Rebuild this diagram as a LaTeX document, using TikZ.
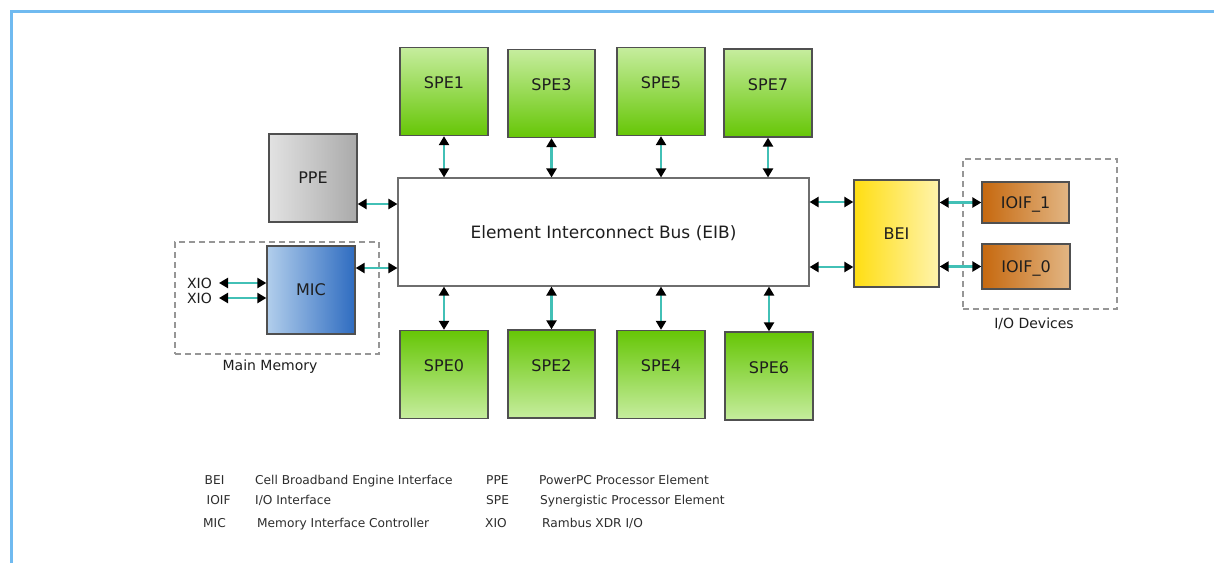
\documentclass[tikz,border=0pt]{standalone}
\usepackage{fontspec}
\setmainfont{DejaVu Sans}
\usetikzlibrary{arrows.meta}
\definecolor{frameblue}{RGB}{112,186,240}
\definecolor{boxline}{RGB}{80,80,80}
\definecolor{eibline}{RGB}{110,110,110}
\definecolor{linkteal}{RGB}{66,192,182}
\definecolor{txt}{RGB}{30,30,30}
\definecolor{legtxt}{RGB}{45,45,45}
\definecolor{spelight}{RGB}{198,237,158}
\definecolor{spedark}{RGB}{102,198,6}
\definecolor{ppelight}{RGB}{226,226,226}
\definecolor{ppedark}{RGB}{170,170,170}
\definecolor{miclight}{RGB}{178,206,236}
\definecolor{micdark}{RGB}{46,108,192}
\definecolor{beidark}{RGB}{255,222,18}
\definecolor{beilight}{RGB}{255,243,172}
\definecolor{ioifdark}{RGB}{198,104,14}
\definecolor{ioiflight}{RGB}{226,182,132}
\definecolor{grpgray}{RGB}{150,150,150}
\tikzset{
 blk/.style={draw=boxline, line width=1.3pt, inner sep=0pt, text=txt, font=\fontsize{16}{18}\selectfont, text height=11.7pt, text depth=0pt},
 spebox/.style={blk, minimum width=88pt, minimum height=88pt, text depth=17pt},
 spetop/.style={spebox, top color=spelight, bottom color=spedark},
 spebot/.style={spebox, top color=spedark, bottom color=spelight},
 link/.style={draw=linkteal, line width=2.4pt, arrows={Triangle[color=black,length=9pt,width=10pt]-Triangle[color=black,length=9pt,width=10pt]}},
 grp/.style={draw=grpgray, line width=1.1pt, dash pattern=on 6pt off 4pt, inner sep=0pt},
 grplbl/.style={text=txt, font=\fontsize{14}{16}\selectfont, inner sep=0pt},
 legtext/.style={text=legtxt, font=\fontsize{12.2}{14}\selectfont, inner sep=0pt, anchor=base west},
}
\begin{document}
\begin{tikzpicture}[x=1pt,y=-1pt]
\useasboundingbox (0,0) rectangle (1214,563);
\fill[white] (0,0) rectangle (1214,563);
\draw[frameblue, line width=3pt] (11,563) -- (11,11) -- (1214,11);

% groups
\node[grp, minimum width=204pt, minimum height=112pt] (mainmem) at (277,298) {};
\node[grp, minimum width=154pt, minimum height=150pt] (iodev) at (1040,234) {};
\node[grplbl] (mmlbl) at (270,366.5) {Main Memory};
\node[grplbl] (iolbl) at (1034,324) {I/O Devices};

% bus
\node[blk, draw=eibline, line width=1.1pt, minimum width=411pt, minimum height=108pt, fill=white, font=\fontsize{17}{19}\selectfont, text height=12.4pt] (eib) at (603.5,232) {Element Interconnect Bus (EIB)};

% SPEs
\node[spetop] (spe1) at (444,91.5) {SPE1};
\node[spetop, minimum width=87pt] (spe3) at (551.5,93.5) {SPE3};
\node[spetop] (spe5) at (661,91.5) {SPE5};
\node[spetop] (spe7) at (768,93) {SPE7};
\node[spebot] (spe0) at (444,374.5) {SPE0};
\node[spebot, minimum width=87pt] (spe2) at (551.5,374) {SPE2};
\node[spebot] (spe4) at (661,374.5) {SPE4};
\node[spebot] (spe6) at (769,376) {SPE6};

% other blocks
\node[blk, minimum width=88pt, minimum height=88pt, left color=ppelight, right color=ppedark] (ppe) at (313,178) {PPE};
\node[blk, minimum width=88pt, minimum height=88pt, left color=miclight, right color=micdark] (mic) at (311,290) {MIC};
\node[blk, minimum width=85pt, minimum height=107pt, left color=beidark, right color=beilight] (bei) at (896.5,233.5) {BEI};
\node[blk, minimum width=87pt, minimum height=41pt, left color=ioifdark, right color=ioiflight] (ioif1) at (1025.5,202.5) {IOIF\_1};
\node[blk, minimum width=88pt, minimum height=45pt, left color=ioifdark, right color=ioiflight] (ioif0) at (1026,266.5) {IOIF\_0};

\node[grplbl, anchor=east] (xio1) at (212,283) {XIO};
\node[grplbl, anchor=east] (xio2) at (212,298) {XIO};

% links
\draw[link] (spe1.south) -- (spe1.south |- eib.north);
\draw[link] (spe3.south) -- (spe3.south |- eib.north);
\draw[link] (spe5.south) -- (spe5.south |- eib.north);
\draw[link] (spe7.south) -- (spe7.south |- eib.north);
\draw[link] (spe0.north) -- (spe0.north |- eib.south);
\draw[link] (spe2.north) -- (spe2.north |- eib.south);
\draw[link] (spe4.north) -- (spe4.north |- eib.south);
\draw[link] (spe6.north) -- (spe6.north |- eib.south);
\draw[link] (ppe.east |- 0,204) -- (eib.west |- 0,204);
\draw[link] (mic.east |- 0,268) -- (eib.west |- 0,268);
\draw[link] ([xshift=7pt]xio1.east) -- (mic.west |- xio1.east);
\draw[link] ([xshift=7pt]xio2.east) -- (mic.west |- xio2.east);
\draw[link] (eib.east |- 0,202) -- (bei.west |- 0,202);
\draw[link] (eib.east |- 0,267) -- (bei.west |- 0,267);
\draw[link] (bei.east |- ioif1.west) -- (ioif1.west);
\draw[link] (bei.east |- ioif0.west) -- (ioif0.west);

% legend
\node[legtext] (kbei) at (204.5,484) {BEI};
\node[legtext] (kioif) at (206.5,504.5) {IOIF};
\node[legtext] (kmic) at (203,527.5) {MIC};
\node[legtext] (dbei) at (255,484) {Cell Broadband Engine Interface};
\node[legtext] (dioif) at (255,504.5) {I/O Interface};
\node[legtext] (dmic) at (257,527.5) {Memory Interface Controller};
\node[legtext] (kppe) at (486,484) {PPE};
\node[legtext] (kspe) at (486,504.5) {SPE};
\node[legtext] (kxio) at (485,527.5) {XIO};
\node[legtext] (dppe) at (539,484) {PowerPC Processor Element};
\node[legtext] (dspe) at (540,504.5) {Synergistic Processor Element};
\node[legtext] (dxio) at (542,527.5) {Rambus XDR I/O};
\end{tikzpicture}
\end{document}
